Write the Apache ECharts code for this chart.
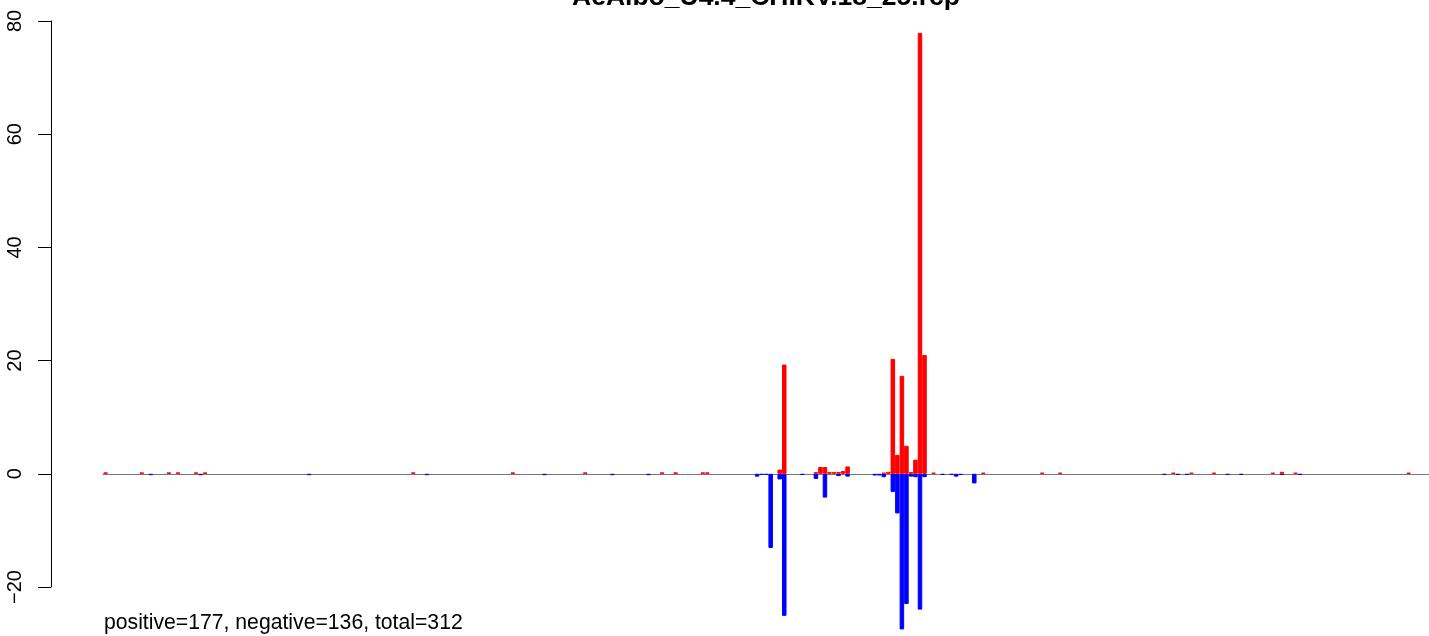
<!DOCTYPE html>
<html>
<head>
<meta charset="utf-8">
<script src="https://cdn.jsdelivr.net/npm/echarts@6.0.0/dist/echarts.min.js"></script>
<style>
html,body{margin:0;padding:0;background:#fff;}
#chart{width:1429px;height:636px;}
</style>
</head>
<body>
<div id="chart"></div>
<script>
// ---- data ----
const chartTitle = 'AeAlbo_U4.4_CHIKV.18_25.rcp';
const footnote = 'positive=177, negative=136, total=312';
const nPositions = 293;
const categories = Array.from({length: nPositions}, (_, i) => String(i + 1));
const yTicks = [-20, 0, 20, 40, 60, 80];

// positive (red) bars: slot index and value
const posIndex  = [0, 8, 14, 16, 20, 22, 68, 90, 106, 123, 126, 132, 133,
                   149, 150, 157, 158, 159, 160, 161, 162, 163, 164,
                   172, 173, 174, 175, 176, 177, 178, 179, 180, 181,
                   183, 194, 207, 211, 236, 240, 245, 258, 260, 263, 288];
const posValues = [0.25, 0.25, 0.25, 0.25, 0.25, 0.25, 0.25, 0.25, 0.25, 0.25, 0.25, 0.25, 0.25,
                   0.75, 19.3, 0.3, 1.2, 1.2, 0.3, 0.3, 0.3, 0.5, 1.3,
                   0.2, 0.35, 20.3, 3.35, 17.3, 4.95, 0.3, 2.5, 77.9, 21.0,
                   0.2, 0.2, 0.2, 0.2, 0.2, 0.2, 0.2, 0.2, 0.35, 0.2, 0.2];

// negative (blue) bars: slot index and value
const negIndex  = [10, 21, 45, 71, 97, 112, 120,
                   144, 145, 146, 147, 149, 150, 154, 157, 159, 162, 164,
                   170, 171, 172, 174, 175, 176, 177, 178, 179, 180, 181,
                   185, 187, 188, 189, 192, 234, 237, 239, 248, 251, 260, 264];
const negValues = [-0.25, -0.25, -0.25, -0.25, -0.25, -0.25, -0.25,
                   -0.5, -0.2, -0.2, -13.1, -1.0, -25.1, -0.2, -0.9, -4.2, -0.4, -0.5,
                   -0.3, -0.3, -0.6, -3.2, -7.0, -27.5, -23.0, -0.5, -0.6, -24.0, -0.6,
                   -0.2, -0.2, -0.5, -0.2, -1.7, -0.2, -0.2, -0.2, -0.2, -0.2, -0.2, -0.2];

function expand(idx, vals) {
  const arr = new Array(nPositions).fill(null);
  idx.forEach((k, i) => { arr[k] = vals[i]; });
  return arr;
}
const posSeries = expand(posIndex, posValues);
const negSeries = expand(negIndex, negValues);

const FONT = 'Liberation Sans, Arial, Helvetica, sans-serif';
const chart = echarts.init(document.getElementById('chart'), null, {renderer: 'canvas'});
chart.setOption({
  animation: false,
  backgroundColor: '#ffffff',
  title: [
    {text: chartTitle, left: 572, top: -16, padding: 0,
     textStyle: {fontFamily: FONT, fontWeight: 'bold', fontSize: 26.5, color: '#000'}},
    {text: footnote, left: 104, top: 613, padding: 0,
     textStyle: {fontFamily: FONT, fontWeight: 'normal', fontSize: 21.2, color: '#000'}}
  ],
  grid: {left: 103.3, right: 0, top: 21, bottom: 49, containLabel: false},
  xAxis: {
    type: 'category',
    data: categories,
    axisLine: {show: true, onZero: true, lineStyle: {color: '#777777', width: 1.2}},
    axisTick: {show: false},
    axisLabel: {show: false},
    splitLine: {show: false}
  },
  yAxis: {
    type: 'value',
    min: yTicks[0], max: yTicks[yTicks.length - 1], interval: 20,
    offset: 52.3,
    axisLine: {show: true, lineStyle: {color: '#000', width: 1}},
    axisTick: {show: true, inside: false, length: 13, lineStyle: {color: '#000', width: 1}},
    axisLabel: {
      show: true, rotate: 90, margin: 26, color: '#000',
      fontFamily: FONT, fontSize: 20,
      formatter: v => String(v).replace('-', '\u2212')
    },
    splitLine: {show: false}
  },
  series: [
    {type: 'bar', name: 'negative', data: negSeries, clip: false,
     barWidth: '100%', barGap: '-100%', barCategoryGap: 0,
     itemStyle: {color: '#0000ff', borderColor: '#0000ff', borderWidth: 1}},
    {type: 'bar', name: 'positive', data: posSeries, clip: false,
     barWidth: '100%', barGap: '-100%', barCategoryGap: 0,
     itemStyle: {color: '#ff0000', borderColor: '#ff0000', borderWidth: 1}}
  ]
});
</script>
</body>
</html>
